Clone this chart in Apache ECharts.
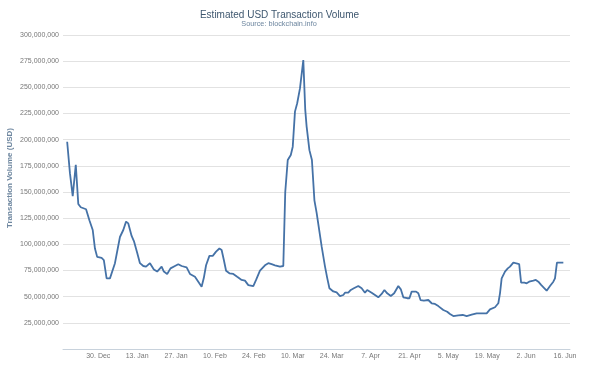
<!DOCTYPE html>
<html>
<head>
<meta charset="utf-8">
<script src="https://cdn.jsdelivr.net/npm/echarts@6/dist/echarts.min.js"></script>
<style>
html,body{margin:0;padding:0;background:#fff;}
#chart{width:598px;height:367px;}
</style>
</head>
<body>
<div id="chart"></div>
<script>
// Days relative to 30 Dec (day 0)
var dayOffsets = [-11.2,-10.2,-9.2,-8.1,-7.2,-6.3,-4.4,-3.2,-2.0,-1.2,-0.4,1.2,2.0,3.0,4.2,6.0,7.8,9.0,10.0,10.8,12.0,12.9,14.0,15.0,16.2,17.2,18.6,20.0,21.2,22.8,23.6,24.8,26.0,27.6,28.8,30.0,31.8,33.0,34.8,36.0,37.2,38.0,38.8,40.0,41.2,42.4,43.6,44.4,45.2,46.0,47.2,48.6,50.0,51.6,52.8,54.0,55.8,56.8,58.2,60.0,61.2,62.4,63.6,65.4,66.6,67.3,68.2,69.3,70.0,70.8,71.6,72.6,73.8,74.5,75.0,76.0,76.9,77.8,78.6,80.4,81.6,82.4,83.2,84.6,85.8,87.0,88.2,88.8,90.0,90.9,92.0,93.6,94.8,96.0,96.8,98.4,99.6,100.8,102.0,103.0,104.0,105.3,106.5,107.2,108.0,108.9,109.8,111.2,112.0,112.8,114.4,115.2,116.0,117.2,118.8,120.0,121.2,122.4,124.2,125.6,126.6,127.8,129.6,131.2,132.6,134.4,136.2,138.0,139.8,141.0,142.8,144.0,144.6,145.2,146.4,147.4,148.2,149.4,150.2,151.5,152.2,153.4,154.2,155.1,155.8,156.6,157.5,158.4,159.4,160.6,161.4,162.6,163.8,164.4,165.1,166.2,167.4];
// Estimated USD transaction volume, millions
var volumeMillions = [198,168,146,176,138.6,135.4,133.5,123,113.7,96,88,87,85,67.5,67.5,82,107,113.7,121.7,120,108,102.5,92,82,79.3,78.7,82,76,74,78.7,74,71.7,77,79.3,81,79.3,78,71.7,69,64.3,59.5,68,80,89,89,93,96,94.6,85,74.8,72.3,71.7,69,66,65.3,61,60,66,74.8,80,82,81,80,78.7,79.3,150,180.6,185.4,193.3,226.8,234.8,249,276,228.4,212.5,190,180.6,142,130,98,79,68,58,55,54,50.5,51.6,53.8,53.8,56.4,58,60.2,58,53.8,56.4,53.8,51.6,49.4,52.6,56.4,53.2,50.7,53.2,54.8,60.2,57,49.4,48.5,48.5,54.8,54.8,53.2,46.8,46.2,46.8,43.7,43,41,37.3,35.6,33.4,31.5,32.2,32.5,31.5,32.8,34,34,34,37.9,39.9,43.7,53.2,67.5,74,77,78.7,82.5,82,81.2,63.4,63.4,62.8,64.3,62.8,65.3,66,64.3,61.2,58,55.7,60.2,64.3,67.5,82.5,82.5,82.5];
var tickDays = [0,14,28,42,56,70,84,98,112,126,140,154,168];
var tickLabels = ['30. Dec','13. Jan','27. Jan','10. Feb','24. Feb','10. Mar','24. Mar','7. Apr','21. Apr','5. May','19. May','2. Jun','16. Jun'];

var seriesData = dayOffsets.map(function(d, i){ return [d, volumeMillions[i] * 1e6]; });
var font = '"Liberation Sans", Arial, sans-serif';

var chart = echarts.init(document.getElementById('chart'), null, {renderer: 'canvas'});
chart.setOption({
  animation: false,
  backgroundColor: '#ffffff',
  grid: {left: 63, right: 28, top: 35, bottom: 18, containLabel: false},
  graphic: [
    {type: 'text', left: 'auto', x: 279.5, y: 15,
     style: {text: 'Estimated USD Transaction Volume', fill: '#3E576F', font: 'normal 10px ' + font, textAlign: 'center', textVerticalAlign: 'middle'}},
    {type: 'text', x: 279, y: 24,
     style: {text: 'Source: blockchain.info', fill: '#6D869F', font: 'normal 7.3px ' + font, textAlign: 'center', textVerticalAlign: 'middle'}},
    {type: 'text', x: 10, y: 178, rotation: Math.PI / 2,
     style: {text: 'Transaction Volume (USD)', fill: '#6D869F', font: 'bold 8px ' + font, textAlign: 'center', textVerticalAlign: 'middle'}}
  ],
  xAxis: {
    type: 'value',
    min: -12.7,
    max: 169.8,
    splitLine: {show: false},
    axisLine: {show: true, lineStyle: {color: '#C8D2DC', width: 1}},
    axisTick: {show: false},
    axisLabel: {
      customValues: tickDays,
      margin: 4,
      color: '#777',
      fontSize: 7,
      fontFamily: font,
      formatter: function(v){ var i = tickDays.indexOf(Math.round(v)); return i >= 0 ? tickLabels[i] : ''; }
    }
  },
  yAxis: {
    type: 'value',
    min: 0,
    max: 300000000,
    interval: 25000000,
    axisLine: {show: false},
    axisTick: {show: false},
    splitLine: {show: true, lineStyle: {color: '#E2E2E2', width: 1}},
    axisLabel: {
      showMinLabel: false,
      margin: 4,
      color: '#777',
      fontSize: 7,
      fontFamily: font,
      formatter: function(v){ return v === 0 ? '' : v.toLocaleString('en-US'); }
    }
  },
  series: [{
    type: 'line',
    data: seriesData,
    symbol: 'none',
    smooth: false,
    lineStyle: {color: '#4572A7', width: 1.8},
    itemStyle: {color: '#4572A7'}
  }]
});
</script>
</body>
</html>
